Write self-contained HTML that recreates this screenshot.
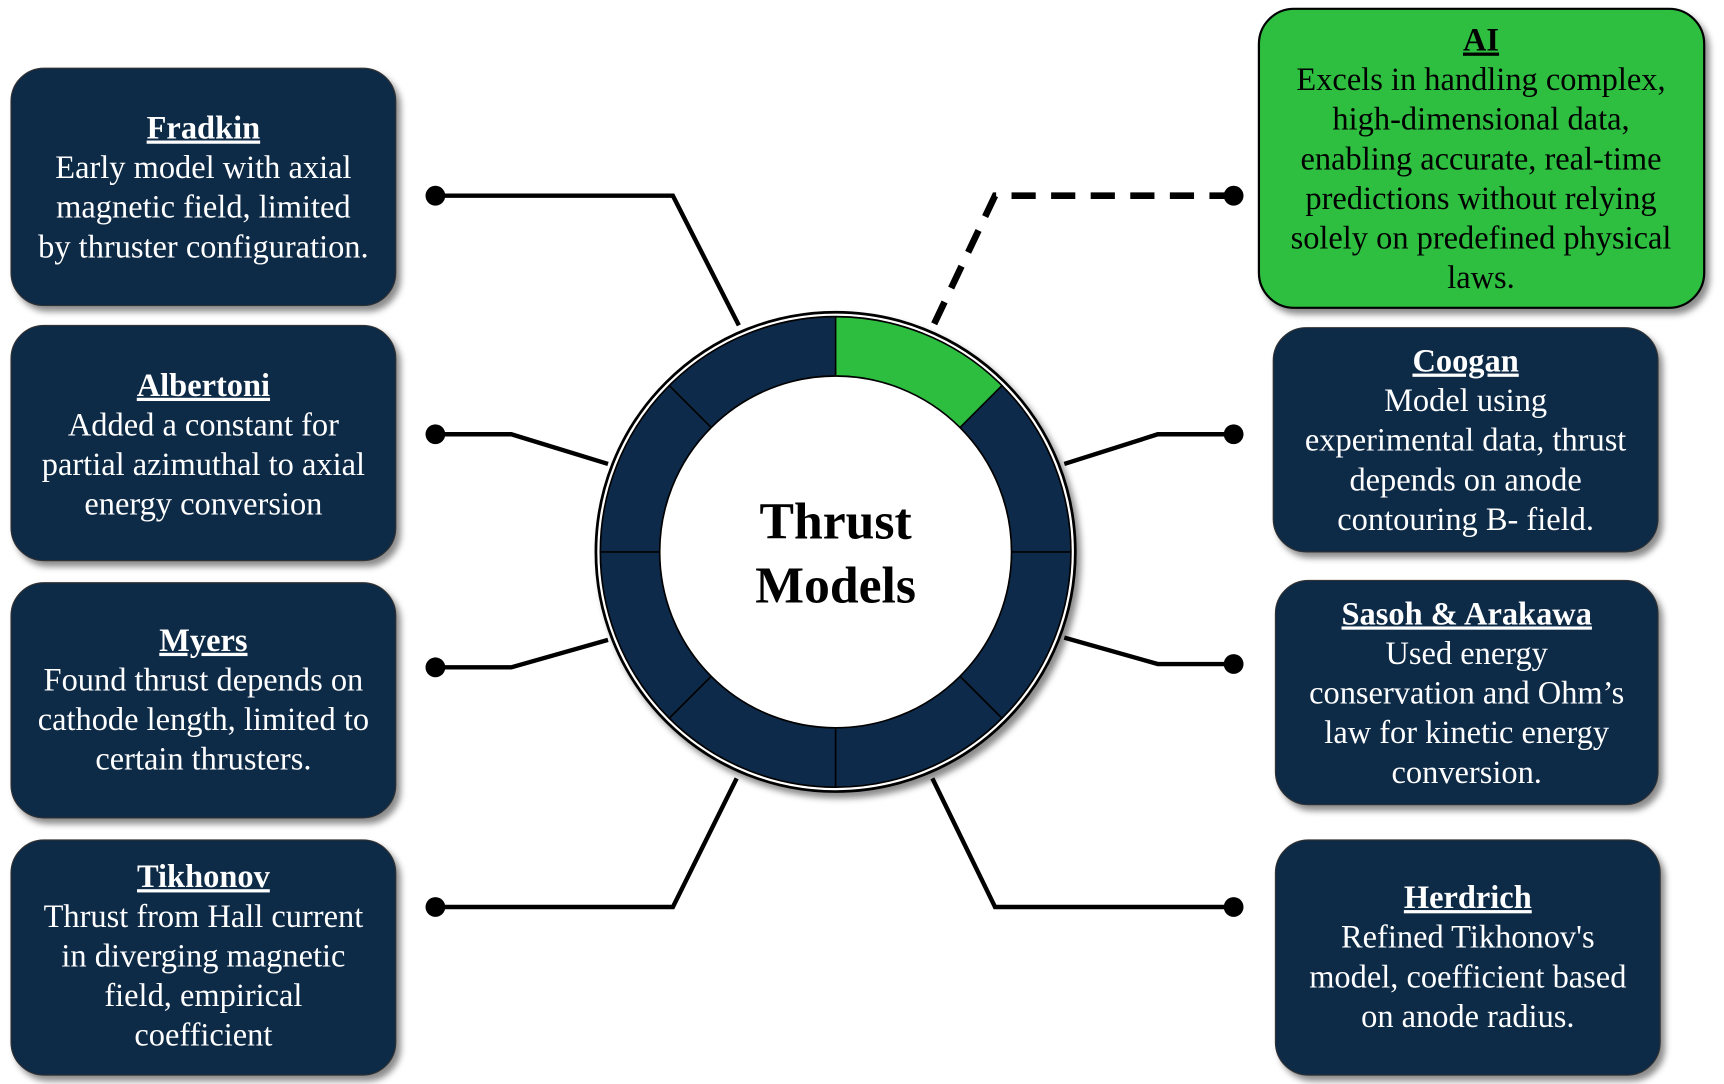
<!DOCTYPE html>
<html><head><style>html,body{margin:0;padding:0;background:#fff;}svg{display:block}</style></head>
<body>
<svg width="1724" height="1084" viewBox="0 0 1568 986" preserveAspectRatio="none" xmlns="http://www.w3.org/2000/svg" font-family="'Liberation Serif', serif">
<defs>
<filter id="sh" x="-10%" y="-10%" width="125%" height="125%"><feDropShadow dx="4" dy="5" stdDeviation="3" flood-color="#000" flood-opacity="0.45"/></filter>
</defs>
<g stroke="#000" stroke-width="4" fill="none">
<polyline points="396,178 612,178 672,296"/>
<polyline points="396,395 465,395 553,422"/>
<polyline points="396,607 465,607 553,582"/>
<polyline points="396,825 612,825 670,708"/>
<polyline points="968,422 1053,395 1122,395"/>
<polyline points="968,580 1053,604 1122,604"/>
<polyline points="1122,825 905,825 848,708"/>
<polyline points="1122,178 905,178 848,298" stroke-width="6" stroke-dasharray="22,14"/>
</g>
<g fill="#000">
<circle cx="396" cy="178" r="9"/><circle cx="396" cy="395" r="9"/><circle cx="396" cy="607" r="9"/><circle cx="396" cy="825" r="9"/>
<circle cx="1122" cy="178" r="9"/><circle cx="1122" cy="395" r="9"/><circle cx="1122" cy="604" r="9"/><circle cx="1122" cy="825" r="9"/>
</g>
<circle cx="760" cy="502" r="218" fill="#fff" stroke="#000" stroke-width="2.5" filter="url(#sh)"/>
<circle cx="760" cy="502" r="186" fill="none" stroke="#0e2a4a" stroke-width="56"/>
<path d="M760,288 A214,214 0 0 1 911.3,350.7 L873.1,388.9 A160,160 0 0 0 760,342 Z" fill="#2dbe3f"/>
<circle cx="760" cy="502" r="214" fill="none" stroke="#000" stroke-width="1.5"/>
<circle cx="760" cy="502" r="160" fill="#fff" stroke="#000" stroke-width="1.5"/>
<g stroke="#000" stroke-width="1.5">
<line x1="760" y1="288" x2="760" y2="342"/><line x1="911.3" y1="350.7" x2="873.1" y2="388.9"/>
<line x1="974" y1="502" x2="920" y2="502"/><line x1="911.3" y1="653.3" x2="873.1" y2="615.1"/>
<line x1="760" y1="716" x2="760" y2="662"/><line x1="608.7" y1="653.3" x2="646.9" y2="615.1"/>
<line x1="546" y1="502" x2="600" y2="502"/><line x1="608.7" y1="350.7" x2="646.9" y2="388.9"/>
</g>
<text x="760" y="490" text-anchor="middle" font-weight="bold" font-size="47">Thrust</text>
<text x="760" y="548" text-anchor="middle" font-weight="bold" font-size="47">Models</text>
<g filter="url(#sh)" stroke="#333" stroke-width="1">
<rect x="10" y="62" width="350" height="216" rx="30" fill="#0f2a47"/>
<rect x="10" y="296" width="350" height="214" rx="30" fill="#0f2a47"/>
<rect x="10" y="530" width="350" height="214" rx="30" fill="#0f2a47"/>
<rect x="10" y="764" width="350" height="214" rx="30" fill="#0f2a47"/>
<rect x="1145" y="8" width="405" height="272" rx="32" fill="#2dbe3f" stroke="#000" stroke-width="2"/>
<rect x="1158" y="298" width="350" height="204" rx="30" fill="#0f2a47"/>
<rect x="1160" y="528" width="348" height="204" rx="30" fill="#0f2a47"/>
<rect x="1160" y="764" width="350" height="214" rx="30" fill="#0f2a47"/>
</g>
<g fill="#fff" font-size="29.5" text-anchor="middle">
<text x="185" y="126" font-weight="bold" text-decoration="underline">Fradkin</text>
<text x="185" y="162">Early model with axial</text>
<text x="185" y="198">magnetic field, limited</text>
<text x="185" y="234">by thruster configuration.</text>
<text x="185" y="360" font-weight="bold" text-decoration="underline">Albertoni</text>
<text x="185" y="396">Added a constant for</text>
<text x="185" y="432">partial azimuthal to axial</text>
<text x="185" y="468">energy conversion</text>
<text x="185" y="592" font-weight="bold" text-decoration="underline">Myers</text>
<text x="185" y="628">Found thrust depends on</text>
<text x="185" y="664">cathode length, limited to</text>
<text x="185" y="700">certain thrusters.</text>
<text x="185" y="807" font-weight="bold" text-decoration="underline">Tikhonov</text>
<text x="185" y="843">Thrust from Hall current</text>
<text x="185" y="879">in diverging magnetic</text>
<text x="185" y="915">field, empirical</text>
<text x="185" y="951">coefficient</text>
<text x="1333" y="338" font-weight="bold" text-decoration="underline">Coogan</text>
<text x="1333" y="374">Model using</text>
<text x="1333" y="410">experimental data, thrust</text>
<text x="1333" y="446">depends on anode</text>
<text x="1333" y="482">contouring B- field.</text>
<text x="1334" y="568" font-weight="bold" text-decoration="underline">Sasoh &amp; Arakawa</text>
<text x="1334" y="604">Used energy</text>
<text x="1334" y="640">conservation and Ohm’s</text>
<text x="1334" y="676">law for kinetic energy</text>
<text x="1334" y="712">conversion.</text>
<text x="1335" y="826" font-weight="bold" text-decoration="underline">Herdrich</text>
<text x="1335" y="862">Refined Tikhonov's</text>
<text x="1335" y="898">model, coefficient based</text>
<text x="1335" y="934">on anode radius.</text>
</g>
<g fill="#000" font-size="29.5" text-anchor="middle">
<text x="1347" y="46" font-weight="bold" text-decoration="underline">AI</text>
<text x="1347" y="82">Excels in handling complex,</text>
<text x="1347" y="118">high-dimensional data,</text>
<text x="1347" y="154">enabling accurate, real-time</text>
<text x="1347" y="190">predictions without relying</text>
<text x="1347" y="226">solely on predefined physical</text>
<text x="1347" y="262">laws.</text>
</g>
</svg>
</body></html>
